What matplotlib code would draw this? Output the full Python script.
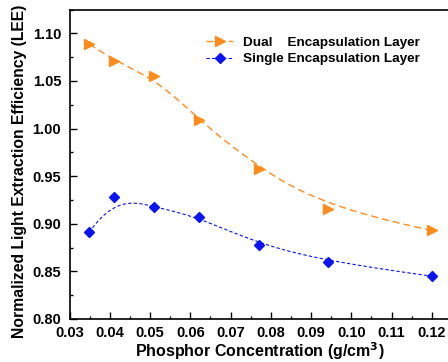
import numpy as np
import matplotlib
matplotlib.use("Agg")
import matplotlib.pyplot as plt
from matplotlib.ticker import MultipleLocator

plt.rcParams['font.family'] = ['Liberation Sans', 'DejaVu Sans']
plt.rcParams['font.weight'] = 'bold'

# phosphor concentration (g/cm^3)
conc = [0.0349, 0.0410, 0.0510, 0.0621, 0.0770, 0.0941, 0.1200]
# normalized LEE
dual = [1.089, 1.071, 1.055, 1.009, 0.958, 0.916, 0.893]
single = [0.891, 0.928, 0.918, 0.907, 0.878, 0.860, 0.845]

orange = '#FF8C1A'
blue = '#0A14F0'


def bspline(px, py, k=3, num=300):
    # clamped cubic B-spline using the data points as control points (Origin-style)
    px = np.asarray(px)
    py = np.asarray(py)
    n = len(px)
    knots = np.concatenate([np.zeros(k), np.arange(n - k + 1), np.full(k, n - k)]).astype(float)
    t = np.linspace(0, n - k, num)
    t[-1] -= 1e-9
    # Cox-de Boor basis
    B = np.zeros((num, len(knots) - 1))
    for i in range(len(knots) - 1):
        B[:, i] = (knots[i] <= t) & (t < knots[i + 1])
    for d in range(1, k + 1):
        Bn = np.zeros((num, len(knots) - 1 - d))
        for i in range(len(knots) - 1 - d):
            a = knots[i + d] - knots[i]
            b = knots[i + d + 1] - knots[i + 1]
            left = (t - knots[i]) / a * B[:, i] if a > 0 else 0
            right = (knots[i + d + 1] - t) / b * B[:, i + 1] if b > 0 else 0
            Bn[:, i] = left + right
        B = Bn
    return B @ px, B @ py


fig = plt.figure(figsize=(4.48, 3.62), dpi=100)
ax = fig.add_axes([69.5 / 448, 1 - 319 / 362, (450 - 69.5) / 448, (319 - 9.5) / 362])

dx, dy = bspline(conc, dual)
sx, sy = bspline(conc, single)
ax.plot(dx, dy, '--', color=orange, lw=1.0, dashes=(5, 3))
ax.plot(sx, sy, '--', color=blue, lw=0.8, dashes=(3, 2))
ax.plot(conc, dual, '>', color=orange, ms=7, ls='none')
ax.plot(conc, single, 'D', color=blue, ms=5, ls='none')

# legend handles
ax.plot([], [], '--', color=orange, marker='>', ms=7, lw=1.0, dashes=(5, 3),
        label='Dual    Encapsulation Layer')
ax.plot([], [], '--', color=blue, marker='D', ms=5, lw=0.8, dashes=(3, 2),
        label='Single Encapsulation Layer')
leg = ax.legend(loc='upper left', bbox_to_anchor=(0.345, 0.93), frameon=False,
                fontsize=9.7, handlelength=2.0, handletextpad=0.7, labelspacing=0.3,
                borderaxespad=0)

ax.set_xlim(0.03, 0.1245)
ax.set_ylim(0.80, 1.125)
ax.xaxis.set_major_locator(MultipleLocator(0.01))
ax.xaxis.set_minor_locator(MultipleLocator(0.005))
ax.yaxis.set_major_locator(MultipleLocator(0.05))
ax.yaxis.set_minor_locator(MultipleLocator(0.025))
ax.tick_params(which='both', direction='in', labelsize=10.5, width=1.0)
ax.tick_params(which='major', length=5)
ax.tick_params(which='minor', length=2.5)
ax.tick_params(axis='x', pad=5)
ax.tick_params(axis='y', pad=6)
ax.set_xticklabels([f'{v:.2f}' for v in ax.get_xticks()])
ax.set_yticklabels([f'{v:.2f}' for v in ax.get_yticks()])
for s in ax.spines.values():
    s.set_linewidth(1.2)

ax.set_xlabel('Phosphor Concentration (g/cm$^\\mathbf{3}$)', fontsize=11.5, fontweight='bold', labelpad=0)
ax.set_ylabel('Normalized Light Extraction Efficiency (LEE)', fontsize=11.3, fontweight='bold')
ax.yaxis.set_label_coords(-0.112, 0.478)

fig.savefig('out.png', dpi=100)
